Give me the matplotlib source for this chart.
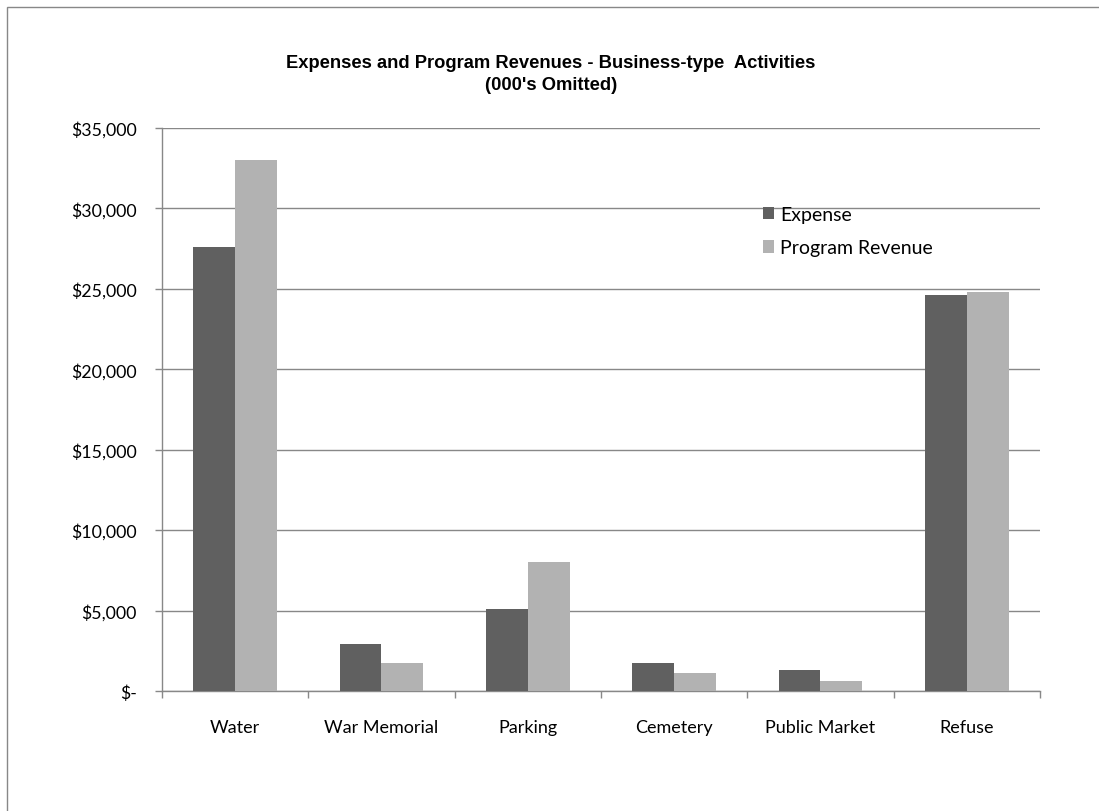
import numpy as np
import matplotlib.pyplot as plt
from matplotlib.patches import Rectangle
from matplotlib.ticker import FuncFormatter, FixedLocator

categories = ["Water", "War Memorial", "Parking", "Cemetery", "Public Market", "Refuse"]
expense = [27600, 2950, 5100, 1750, 1300, 24600]
program_revenue = [33000, 1750, 8050, 1100, 620, 24800]

EXPENSE_COLOR = "#606060"
REVENUE_COLOR = "#b2b2b2"
GRID_COLOR = "#888888"

plt.rcParams["font.family"] = ["Lato", "DejaVu Sans"]

fig = plt.figure(figsize=(10.99, 8.12), dpi=100)
ax = fig.add_axes([0.1474, 0.1478, 0.7989, 0.6933])

x = np.arange(len(categories))
width = 0.285
ax.bar(x - width / 2, expense, width, color=EXPENSE_COLOR, label="Expense", zorder=3)
ax.bar(x + width / 2, program_revenue, width, color=REVENUE_COLOR, label="Program Revenue", zorder=3)

ax.set_xlim(-0.5, len(categories) - 0.5)
ax.set_ylim(0, 35000)
ax.set_yticks(np.arange(0, 35001, 5000))


def dollar_fmt(v, pos):
    if v == 0:
        return "$-"
    return f"${v:,.0f}"


ax.yaxis.set_major_formatter(FuncFormatter(dollar_fmt))
ax.yaxis.grid(True, color=GRID_COLOR, linewidth=1.0, zorder=0)
ax.set_axisbelow(True)

# category labels centred, tick marks between categories
ax.set_xticks(x)
ax.set_xticklabels(categories)
ax.xaxis.set_minor_locator(FixedLocator(np.arange(-0.5, len(categories), 1.0)))
ax.tick_params(axis="x", which="major", length=0, pad=20, labelsize=13, colors="black")
ax.tick_params(axis="x", which="minor", length=5, width=1, color=GRID_COLOR, direction="out")
ax.tick_params(axis="y", length=5, width=1, color=GRID_COLOR, pad=13, labelsize=12.8)

for side in ["top", "right"]:
    ax.spines[side].set_visible(False)
for side in ["left", "bottom"]:
    ax.spines[side].set_color(GRID_COLOR)
    ax.spines[side].set_linewidth(1.0)

fig.text(0.5015, 0.908, "Expenses and Program Revenues - Business-type  Activities\n(000's Omitted)",
         ha="center", va="center", fontsize=13.2, fontweight="bold",
         family=["Liberation Sans", "DejaVu Sans"], linespacing=1.4)

ax.legend(loc="upper left", bbox_to_anchor=(0.673, 0.879), frameon=False,
          handlelength=0.6, handleheight=0.6, handletextpad=0.3,
          labelspacing=0.85, fontsize=14, borderpad=0)

# chart area border
fig.patches.append(Rectangle((7 / 1099, -0.1), 1.2, 1.1 - 8 / 812, transform=fig.transFigure,
                             fill=False, edgecolor=GRID_COLOR, linewidth=1.0))

fig.savefig("out.png", dpi=100)
